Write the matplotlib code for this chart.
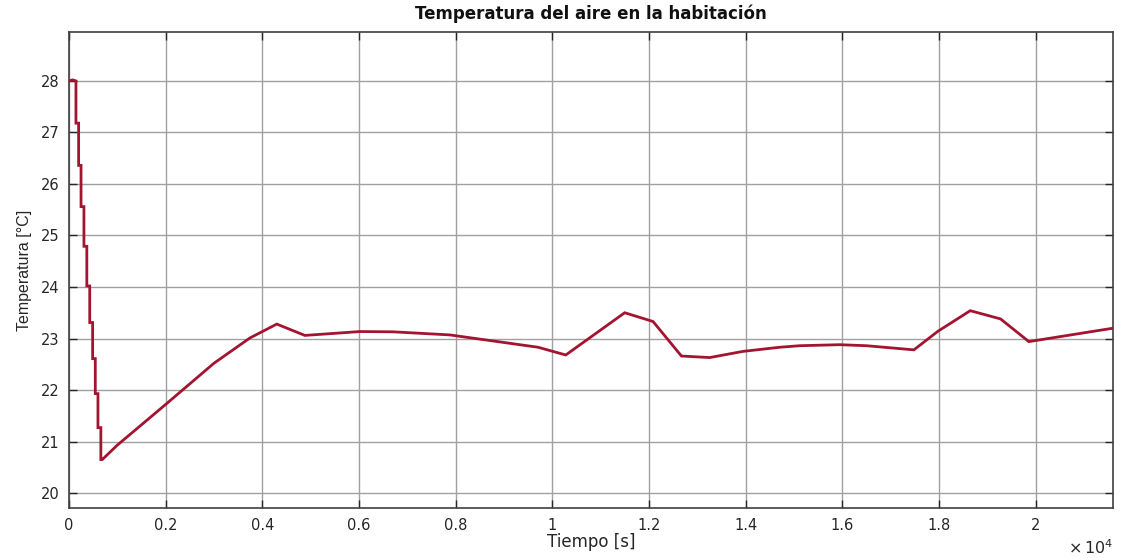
import numpy as np
import matplotlib
matplotlib.use("Agg")
import matplotlib.pyplot as plt
from matplotlib.ticker import FuncFormatter, MultipleLocator

plt.rcParams['font.family'] = ['DejaVu Sans']

# Room air temperature over time (seconds, degrees C)
time_s = [0, 76, 145, 145, 200, 200, 250, 250, 310, 310, 370, 370, 430, 430,
          490, 490, 545, 545, 600, 600, 660, 660, 690,
          1000, 2000, 3000, 3743, 4300, 4880, 6018, 6700, 7879, 9706, 10278,
          11498, 12084, 12671, 13256, 13945, 14703, 15117, 15944, 16496,
          17481, 17977, 18647, 19274, 19859, 21600]
temp_c = [28.00, 28.02, 28.00, 27.18, 27.18, 26.36, 26.36, 25.56, 25.56, 24.79,
          24.79, 24.02, 24.02, 23.31, 23.31, 22.61, 22.61, 21.93, 21.93, 21.27,
          21.27, 20.65, 20.65,
          20.93, 21.72, 22.52, 23.01, 23.28, 23.06, 23.135, 23.13, 23.07, 22.83,
          22.68, 23.50, 23.33, 22.66, 22.63, 22.75, 22.83, 22.86, 22.88, 22.86,
          22.78, 23.14, 23.54, 23.38, 22.94, 23.20]

x_limits = [0, 21600]
y_limits = [19.71, 28.95]
x_tick_step = 2000
y_ticks = [20, 21, 22, 23, 24, 25, 26, 27, 28]

fig = plt.figure(figsize=(11.23, 5.58), dpi=100)
ax = fig.add_axes([0.0614, 0.0896, 0.9297, 0.8531])

ax.plot(time_s, temp_c, color='#A2142F', lw=2.0, solid_joinstyle='miter', zorder=3)

ax.set_xlim(x_limits)
ax.set_ylim(y_limits)
ax.xaxis.set_major_locator(MultipleLocator(x_tick_step))
ax.set_yticks(y_ticks)
ax.xaxis.set_major_formatter(FuncFormatter(lambda v, p: f"{v/1e4:g}"))

ax.grid(True, color='#a0a0a0', lw=1.0)
ax.set_axisbelow(True)
ax.tick_params(direction='in', length=6, width=1.0, top=True, right=True,
               colors='#262626', labelsize=10.5, pad=7)
for s in ax.spines.values():
    s.set_color('#404040')
    s.set_linewidth(1.2)

ax.set_title('Temperatura del aire en la habitación', fontsize=12,
             fontweight='bold', color='#111111', pad=9)
ax.set_xlabel('Tiempo [s]', fontsize=12, color='#262626', labelpad=0)
ax.set_ylabel('Temperatura [°C]', fontsize=11.5, color='#262626', labelpad=6,
              family=['Liberation Sans', 'DejaVu Sans'])

ax.text(1.0, -0.083, r'$\times\,10^{4}$', transform=ax.transAxes, ha='right',
        va='center', fontsize=11.5, color='#262626')

fig.savefig('out.png', dpi=100, facecolor='white')
